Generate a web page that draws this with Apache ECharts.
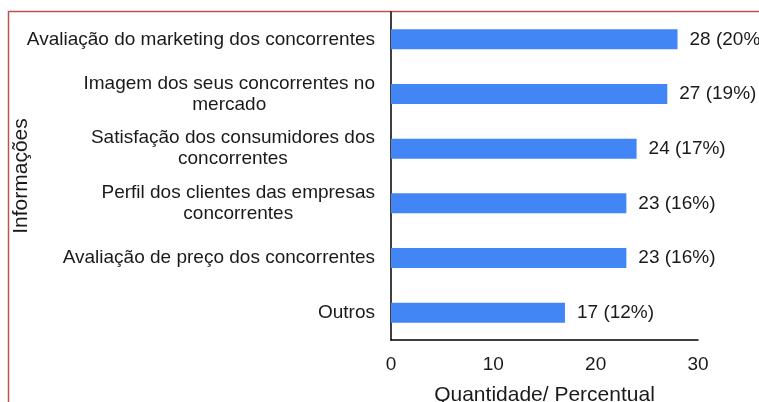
<!DOCTYPE html>
<html>
<head>
<meta charset="utf-8">
<script src="https://cdn.jsdelivr.net/npm/echarts@6/dist/echarts.min.js"></script>
<style>
  html, body { margin: 0; padding: 0; background: #fff; }
  #chart { width: 759px; height: 402px; }
</style>
</head>
<body>
<div id="chart"></div>
<script>
const categorias = [
  'Avaliação do marketing dos concorrentes',
  'Imagem dos seus concorrentes no\nmercado',
  'Satisfação dos consumidores dos\nconcorrentes',
  'Perfil dos clientes das empresas\nconcorrentes',
  'Avaliação de preço dos concorrentes',
  'Outros'
];
const quantidades = [28, 27, 24, 23, 23, 17];
const percentuais = [20, 19, 17, 16, 16, 12];
const ticksX = [0, 10, 20, 30];

const fonte = '"Liberation Sans", Arial, sans-serif';
const myChart = echarts.init(document.getElementById('chart'));

const option = {
  animation: false,
  backgroundColor: '#fff',
  textStyle: { fontFamily: fonte, color: '#1a1a1a' },
  graphic: [{
    type: 'rect',
    shape: { x: 8.5, y: 11.5, width: 800, height: 500 },
    style: { fill: 'none', stroke: '#b85450', lineWidth: 1.5 },
    z: -1
  }],
  grid: { left: 391, right: 61, top: 12, bottom: 62, outerBoundsMode: 'none', containLabel: false },
  xAxis: {
    type: 'value',
    min: ticksX[0],
    max: ticksX[ticksX.length - 1],
    interval: 10,
    name: 'Quantidade/ Percentual',
    nameLocation: 'middle',
    nameGap: 45,
    nameMoveOverlap: false,
    nameTextStyle: { fontSize: 21, color: '#1a1a1a', fontFamily: fonte },
    axisLine: { show: true, lineStyle: { color: '#000', width: 1.5 } },
    axisTick: { show: false },
    splitLine: { show: false },
    axisLabel: { fontSize: 19, color: '#1a1a1a', margin: 15, fontFamily: fonte }
  },
  yAxis: {
    type: 'category',
    inverse: true,
    data: categorias,
    name: 'Informações',
    nameLocation: 'middle',
    nameGap: 359,
    nameRotate: 90,
    nameMoveOverlap: false,
    nameTextStyle: { fontSize: 21, color: '#1a1a1a', fontFamily: fonte },
    axisLine: { show: true, lineStyle: { color: '#000', width: 1.5 } },
    axisTick: { show: false },
    axisLabel: {
      margin: 16,
      fontSize: 19,
      lineHeight: 21,
      color: '#1a1a1a',
      fontFamily: fonte,
      formatter: (v) => v.split('\n').map(l => '{c|' + l + '}').join('\n'),
      rich: {
        c: { align: 'center', fontSize: 19, lineHeight: 21, color: '#1a1a1a', fontFamily: fonte }
      }
    }
  },
  series: [{
    type: 'bar',
    data: quantidades,
    barWidth: 20,
    itemStyle: { color: '#4285F4' },
    label: {
      show: true,
      position: 'right',
      distance: 12,
      fontSize: 19,
      color: '#1a1a1a',
      fontFamily: fonte,
      formatter: (p) => p.value + ' (' + percentuais[p.dataIndex] + '%)'
    }
  }]
};
myChart.setOption(option);
window.addEventListener('resize', () => { myChart.resize(); });
</script>
</body>
</html>
